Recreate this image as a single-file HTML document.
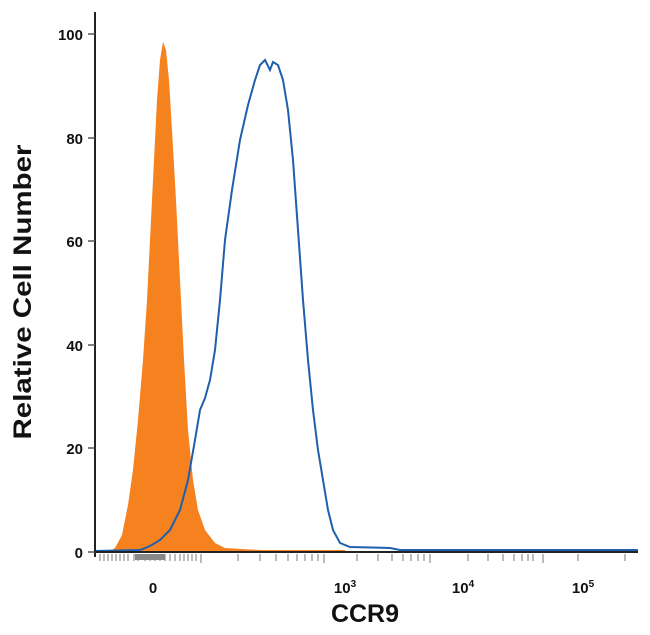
<!DOCTYPE html>
<html><head><style>
body{margin:0;background:#fff;}
svg{display:block;font-family:"Liberation Sans",sans-serif;font-weight:bold;}
</style></head><body>
<svg width="650" height="635" viewBox="0 0 650 635" xmlns="http://www.w3.org/2000/svg">
<path d="M108,552 L115,548 L122,535 L128,505 L133,470 L138,420 L143,360 L147,300 L151,220 L154,160 L157,100 L160,60 L163,42 L166,50 L169,80 L172,130 L176,200 L180,280 L184,360 L188,430 L193,480 L198,510 L205,530 L215,543 L225,548 L260,550 L345,551 L345,552 Z" fill="#f5821f"/>
<line x1="95" y1="551" x2="345" y2="551" stroke="#f5821f" stroke-width="2"/>
<path d="M95,551 L140,550 L150,546 L160,540 L170,530 L180,510 L188,480 L195,440 L200,410 L205,398 L210,380 L215,350 L220,300 L225,240 L232,190 L240,140 L248,105 L255,80 L260,65 L265,60 L270,70 L273,62 L278,65 L283,80 L288,110 L293,160 L298,230 L303,300 L308,360 L313,410 L318,450 L323,480 L328,510 L333,530 L340,543 L350,547 L390,548 L400,550 L638,550" fill="none" stroke="#1f5fad" stroke-width="2"/>
<line x1="95" y1="12" x2="95" y2="557" stroke="#222" stroke-width="2"/>
<line x1="94" y1="552" x2="638" y2="552" stroke="#222" stroke-width="2"/>
<g stroke="#555" stroke-width="1.5">
<line x1="88" y1="34" x2="95" y2="34"/><line x1="88" y1="138" x2="95" y2="138"/>
<line x1="88" y1="241" x2="95" y2="241"/><line x1="88" y1="345" x2="95" y2="345"/>
<line x1="88" y1="448" x2="95" y2="448"/><line x1="88" y1="552" x2="95" y2="552"/>
</g>
<g stroke="#999" stroke-width="1.3">
<path d="M100,554v7M104,554v7M108,554v7M112,554v7M116,554v7M120,554v7M124,554v7M128,554v7M134,554v7M138,554v7M145,554v7M150,554v7M155,554v7M160,554v7M165,554v7M170,554v7M175,554v7M180,554v7M184,554v7M188,554v7M192,554v7M196,554v7M201,554v9M238,554v7M260,554v7M276,554v7M288,554v7M297,554v7M305,554v7M312,554v7M318,554v7M324,554v9M357,554v7M378,554v7M392,554v7M403,554v7M411,554v7M418,554v7M424,554v7M430,554v9M468,554v7M488,554v7M503,554v7M514,554v7M522,554v7M528,554v7M533,554v7M543,554v9M578,554v7M625,554v7"/>
</g>
<rect x="135" y="554" width="30" height="6" fill="#888"/>
<g font-size="15" fill="#111" text-anchor="end">
<text x="83" y="40">100</text><text x="83" y="144">80</text><text x="83" y="247">60</text>
<text x="83" y="351">40</text><text x="83" y="454">20</text><text x="83" y="558">0</text>
</g>
<g font-size="15" fill="#111" text-anchor="middle">
<text x="153" y="593">0</text>
<text x="345" y="593">10<tspan font-size="10" dy="-6">3</tspan></text>
<text x="463" y="593">10<tspan font-size="10" dy="-6">4</tspan></text>
<text x="583" y="593">10<tspan font-size="10" dy="-6">5</tspan></text>
</g>
<text x="365" y="622" font-size="25" text-anchor="middle" fill="#111">CCR9</text>
<text transform="translate(31,292) rotate(-90)" font-size="25" text-anchor="middle" textLength="295" lengthAdjust="spacingAndGlyphs" fill="#111">Relative Cell Number</text>
</svg>
</body></html>
